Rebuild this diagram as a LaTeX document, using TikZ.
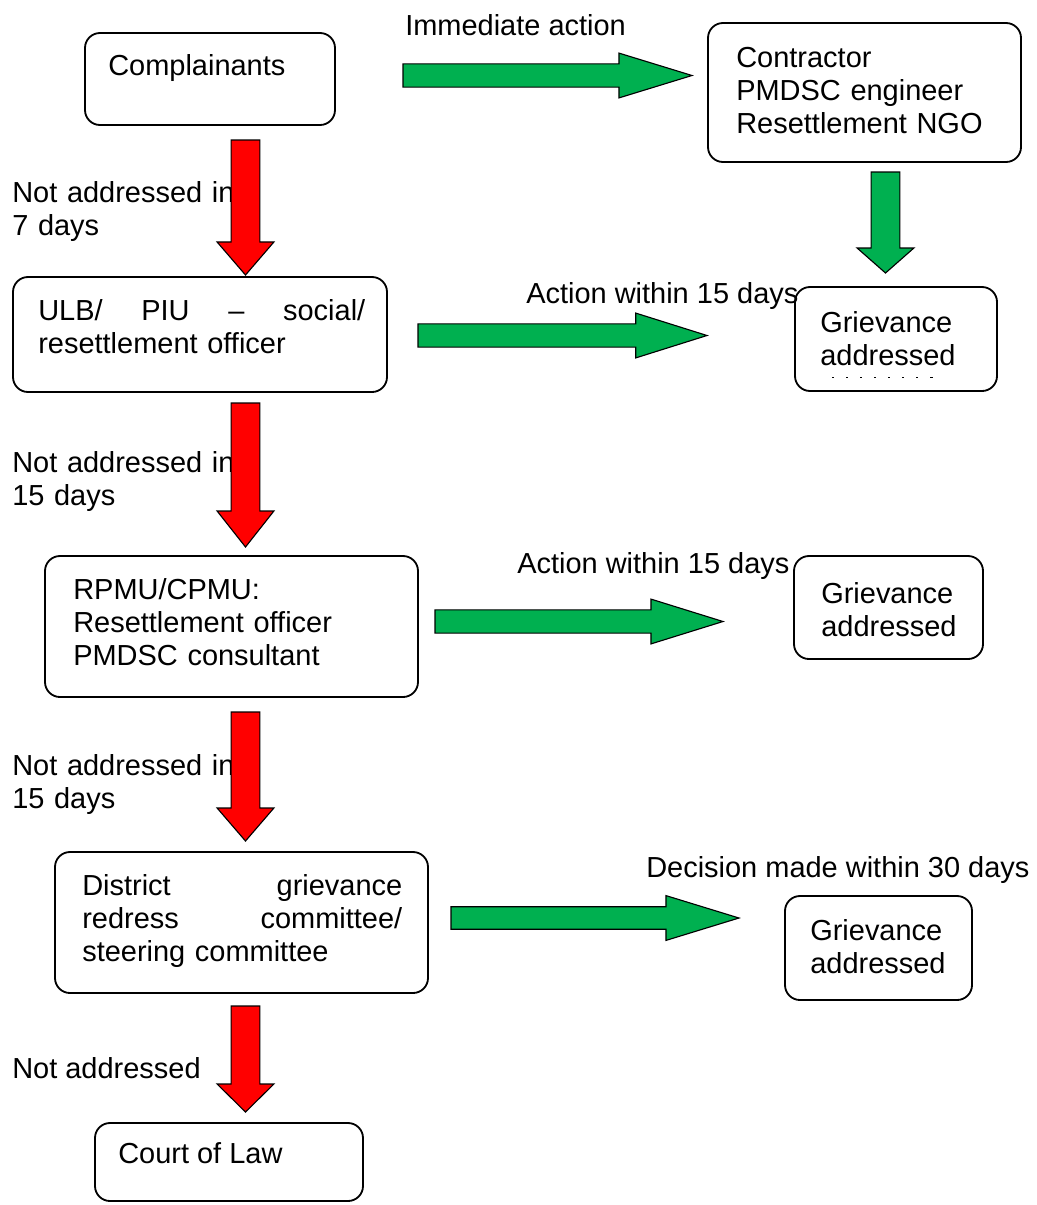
\documentclass[tikz,border=0pt]{standalone}
\usepackage{fontspec}
\setmainfont{Liberation Sans}
\usetikzlibrary{calc,fit}
\definecolor{okgreen}{HTML}{00B050}
\definecolor{nored}{HTML}{FF0000}

% block arrow: fill, from, to, head length, shaft half width, head half width
\newcommand{\blockarrow}[6]{%
  \coordinate (hb) at ($(#3)!#4!(#2)$);
  \draw[arrline,fill=#1] ($(#2)!#5!90:(#3)$) -- ($(hb)!#5!90:(#3)$) -- ($(hb)!#6!90:(#3)$)
    -- (#3) -- ($(hb)!#6!-90:(#3)$) -- ($(hb)!#5!-90:(#3)$) -- ($(#2)!#5!-90:(#3)$) -- cycle;}

\begin{document}
\begin{tikzpicture}[x=0.025cm,y=-0.025cm,
    box/.style={draw,rounded corners=0.375cm,line width=1.3pt,inner sep=0pt},
    lbl/.style={inner sep=0pt,anchor=base west,font=\fontsize{20.6}{23.8}\selectfont},
    arrline/.style={draw=black,line width=0.8pt,line join=miter}]
\useasboundingbox (0,0) rectangle (1037,1205);

% boxes
\node[box,fit={(85,33) (335,125)}] (compl) {};
\node[box,fit={(708,23) (1021,162)}] (contr) {};
\node[box,fit={(13,277) (387,392)}] (ulb) {};
\node[box,fit={(795,287) (997,391)}] (griev1) {};
\node[box,fit={(45,556) (418,697)}] (rpmu) {};
\node[box,fit={(794,556) (983,659)}] (griev2) {};
\node[box,fit={(55,852) (428,993)}] (district) {};
\node[box,fit={(785,896) (972,1000)}] (griev3) {};
\node[box,fit={(95,1123) (363,1201)}] (court) {};

% texts
\node[lbl] (complt) at (108,75) {Complainants};
\node[lbl,text width=290*0.025cm] (contrt) at (736,67) {Contractor\\PMDSC engineer\\Resettlement NGO};
\node[lbl,text width=327*0.025cm] (ulbt) at (38,320) {ULB/\hfill PIU\hfill –\hfill social/\\resettlement officer};
\node[lbl,text width=170*0.025cm] (griev1t) at (820,332) {Grievance\\addressed};
\draw[line width=0.6pt,dash pattern=on 1.5pt off 8.5pt] (832,377) -- (936,377);
\node[lbl,text width=350*0.025cm] (rpmut) at (73,599) {RPMU/CPMU:\\Resettlement officer\\PMDSC consultant};
\node[lbl,text width=160*0.025cm] (griev2t) at (821,603) {Grievance\\addressed};
\node[lbl,text width=320*0.025cm] (distt) at (82,895) {District\hfill grievance\\redress\hfill committee/\\steering committee};
\node[lbl,text width=160*0.025cm] (griev3t) at (810,940) {Grievance\\addressed};
\node[lbl] (courtt) at (118,1163) {Court of Law};

\node[lbl] (immed) at (405,35) {Immediate action};
\node[lbl] (act1) at (526,303) {Action within 15 days};
\node[lbl] (act2) at (517,573) {Action within 15 days};
\node[lbl] (decis) at (646,877) {Decision made within 30 days};
\node[lbl,text width=240*0.025cm] (nad1) at (12,202) {Not addressed in\\7 days};
\node[lbl,text width=240*0.025cm] (nad2) at (12,472) {Not addressed in\\15 days};
\node[lbl,text width=240*0.025cm] (nad3) at (12,775) {Not addressed in\\15 days};
\node[lbl] (nad4) at (12,1078) {Not addressed};

% arrow ends
\coordinate (g1s) at (403,75.5);   \coordinate (g1e) at (692,75.5);
\coordinate (g2s) at (418,335.5);  \coordinate (g2e) at (707,335.5);
\coordinate (g3s) at (435,621.5);  \coordinate (g3e) at (723,621.5);
\coordinate (g4s) at (451,918);    \coordinate (g4e) at (739,918);
\coordinate (gds) at (885.5,172);  \coordinate (gde) at (885.5,273);
\coordinate (r1s) at (245.5,140);  \coordinate (r1e) at (245.5,275);
\coordinate (r2s) at (245.5,403);  \coordinate (r2e) at (245.5,547);
\coordinate (r3s) at (245.5,712);  \coordinate (r3e) at (245.5,841);
\coordinate (r4s) at (245.5,1006); \coordinate (r4e) at (245.5,1112);

% green arrows
\blockarrow{okgreen}{g1s}{g1e}{1.825cm}{0.29cm}{0.56cm}
\blockarrow{okgreen}{g2s}{g2e}{1.78cm}{0.29cm}{0.56cm}
\blockarrow{okgreen}{g3s}{g3e}{1.8cm}{0.29cm}{0.56cm}
\blockarrow{okgreen}{g4s}{g4e}{1.825cm}{0.28cm}{0.56cm}
\blockarrow{okgreen}{gds}{gde}{0.625cm}{0.36cm}{0.71cm}

% red arrows
\blockarrow{nored}{r1s}{r1e}{0.825cm}{0.36cm}{0.71cm}
\blockarrow{nored}{r2s}{r2e}{0.9cm}{0.36cm}{0.71cm}
\blockarrow{nored}{r3s}{r3e}{0.825cm}{0.36cm}{0.71cm}
\blockarrow{nored}{r4s}{r4e}{0.7cm}{0.36cm}{0.71cm}

\end{tikzpicture}
\end{document}
